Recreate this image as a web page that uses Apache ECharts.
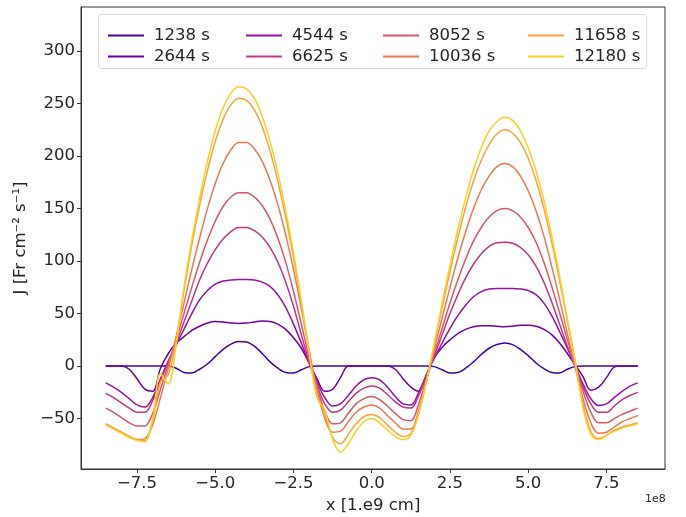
<!DOCTYPE html>
<html><head><meta charset="utf-8">
<script src="https://cdn.jsdelivr.net/npm/echarts@6/dist/echarts.min.js"></script>
<style>html,body{margin:0;padding:0;background:#fff}#c{width:686px;height:517px}</style>
</head><body><div id="c"></div>
<script>
// x positions in units of 1e8 cm
const xs = [-8.5,-8.25,-8.0,-7.75,-7.5,-7.25,-7.0,-6.75,-6.5,-6.25,-6.0,-5.75,-5.5,-5.25,-5.0,-4.75,-4.5,-4.25,-4.0,-3.75,-3.5,-3.25,-3.0,-2.75,-2.5,-2.25,-2.0,-1.75,-1.5,-1.25,-1.0,-0.75,-0.5,-0.25,0.0,0.25,0.5,0.75,1.0,1.25,1.5,1.75,2.0,2.25,2.5,2.75,3.0,3.25,3.5,3.75,4.0,4.25,4.5,4.75,5.0,5.25,5.5,5.75,6.0,6.25,6.5,6.75,7.0,7.25,7.5,7.75,8.0,8.25,8.5];
const seriesNames = ['1238 s','2644 s','4544 s','6625 s','8052 s','10036 s','11658 s','12180 s'];
const y1238 = [0,0,0,0,0,0,0,0,0,-2,-6,-6.5,-3,2,9,16,21,23.5,23,19,12,4,-2,-6,-6.5,-3.5,-0.5,0,0,0,0,0,0,0,0,0,0,0,0,0,0,0,-0.5,-3.5,-6.5,-6,-2,4,11,17,20.5,22,20.5,16,10,3,-2.5,-6,-6.5,-3,-0.5,0,0,0,0,0,0,0,0];
const y2644 = [0,0,0,-3,-12,-22,-24,-2,12,22,28,34,38,41,42.5,42,41,40.5,41,42,43,42.5,40,35,27,17,3,-12,-24,-22,-11,0,0,0,0,0,0,-3,-12,-20,-24,-8,8,18,25,31,35,37.5,38.5,38.5,38,37.5,38,39,39,38,35,30,22,12,1,-10,-23,-20,-11,-1,0,0,0];
const y4544 = [-16,-20,-25,-31,-37,-39,-30,-12,5,20,35,50,63,72,78,81,82,82.5,82.5,82,80,76,68,56,40,22,3,-15,-30,-38,-36,-28,-19,-13,-11,-13,-20,-29,-36,-37,-25,-8,8,22,36,48,58,66,71,73.5,74,74,74,73.5,72,68,60,48,33,17,0,-17,-31,-37.5,-36,-30,-24,-19,-16];
const y6625 = [-26,-30,-35,-40,-44,-44,-33,-14,4,22,42,62,82,98,111,121,128,132,132,129,123,113,99,80,57,30,4,-18,-36,-44,-42,-34,-26,-21,-19,-21,-27,-34,-39,-40,-28,-9,10,30,50,68,84,97,107,114,117.5,118,117,113,106,95,80,61,40,19,-1,-20,-36,-44,-44,-38,-32,-28,-25];
const y8052 = [-40,-44,-49,-54,-57,-57,-45,-22,2,25,50,75,99,120,138,152,161,165,165,161,153,140,122,99,71,40,8,-20,-43,-55,-54,-45,-36,-31,-29,-32,-38,-45,-51,-52,-36,-12,12,36,60,82,102,119,132,142,148,150,148,142,132,118,99,76,51,25,0,-24,-44,-54,-54,-50,-46,-43,-40];
const y10036 = [-55,-59,-63,-67,-70,-69,-56,-30,-2,28,60,92,122,150,174,193,206,213,213,207,195,177,154,125,92,55,15,-22,-50,-63,-62,-53,-44,-39,-37,-40,-47,-54,-60,-60,-42,-14,16,46,75,103,128,150,168,181,190,193,190,181,167,148,124,95,64,31,-1,-31,-54,-64,-63,-58,-53,-50,-47];
const y11658 = [-55,-59,-63,-67,-70,-71,-52,-15,-8,25,72,115,153,186,214,235,249,255,253,244,228,205,176,142,103,60,14,-28,-45,-68,-74,-65,-55,-48,-46,-49,-56,-63,-67,-64,-45,-14,20,56,90,122,151,176,196,211,221,225,222,213,198,177,150,118,82,43,4,-36,-62,-69,-66,-61,-58,-56,-54];
const y12180 = [-56,-60,-64,-68,-71,-72,-50,-7,-17,20,75,120,160,195,224,246,260,266,264,255,238,214,184,148,108,62,12,-30,-42,-70,-82,-74,-62,-53,-50,-54,-61,-67,-70,-66,-45,-14,22,60,96,130,160,187,208,224,233,237,234,224,208,186,158,124,86,45,5,-40,-65,-70,-66,-62,-59,-57,-55];
const xTicks = [-7.5,-5.0,-2.5,0.0,2.5,5.0,7.5];
const yTicks = [-50,0,50,100,150,200,250,300];

const allY = [y1238,y2644,y4544,y6625,y8052,y10036,y11658,y12180];
const colors = ['#41049d','#6f00a8','#9814a0','#be3885','#d8576b','#ed7953','#fba238','#fcce25'];
const fmt = v => { const s = Number(v).toFixed(1); return s.replace('-', '\u2212'); };
const fmtY = v => String(v).replace('-', '\u2212');
const FONT = 'DejaVu Sans';
const FS = 16.5;

const series = allY.map((ys, i) => ({
  name: seriesNames[i], type: 'line', showSymbol: false, symbol: 'none',
  smooth: 0.35, data: xs.map((x, k) => [x, ys[k]]),
  lineStyle: { width: 1.5, color: colors[i] }, itemStyle: { color: colors[i] },
  animation: false, z: 2
}));

const legendCols = [[0,1],[2,3],[4,5],[6,7]];
const legendLeft = [103, 241, 378, 523];
const legends = legendCols.map((idx, c) => ({
  orient: 'vertical', left: legendLeft[c], top: 21, z: 20,
  data: idx.map(i => seriesNames[i]), icon: 'rect', itemWidth: 36, itemHeight: 2,
  itemGap: 2, textStyle: { fontFamily: FONT, fontSize: FS, color: '#262626', lineHeight: 19, padding: [0,0,0,5] },
  selectedMode: false
}));

const chart = echarts.init(document.getElementById('c'), null, { renderer: 'canvas' });
chart.setOption({
  animation: false, backgroundColor: '#fff', color: colors,
  grid: { left: 81, right: 21, top: 7, bottom: 48, show: true, borderColor: '#333', borderWidth: 1,
          containLabel: false, outerBoundsMode: 'none' },
  legend: legends,
  xAxis: {
    type: 'value', min: -9.29, max: 9.37,
    name: 'x [1.e9 cm]', nameLocation: 'middle', nameGap: 24,
    nameTextStyle: { fontFamily: FONT, fontSize: FS, color: '#262626' },
    axisLine: { show: true, onZero: false, lineStyle: { color: '#333' } },
    axisTick: { show: true, inside: false, length: 4, customValues: xTicks, lineStyle: { color: '#333' } },
    axisLabel: { customValues: xTicks, formatter: fmt, fontFamily: FONT, fontSize: FS, color: '#262626', margin: 6 },
    splitLine: { show: false }
  },
  yAxis: {
    type: 'value', min: -98, max: 342,
    name: 'J [Fr cm\u207B\u00B2 s\u207B\u00B9]', nameLocation: 'middle', nameGap: 51,
    nameTextStyle: { fontFamily: FONT, fontSize: FS, color: '#262626' },
    axisLine: { show: true, onZero: false, lineStyle: { color: '#333' } },
    axisTick: { show: true, inside: false, length: 4, customValues: yTicks, lineStyle: { color: '#333' } },
    axisLabel: { customValues: yTicks, formatter: fmtY, fontFamily: FONT, fontSize: FS, color: '#262626', margin: 6 },
    splitLine: { show: false }
  },
  graphic: [
    { type: 'rect', left: 98, top: 14, shape: { width: 548, height: 54, r: 3 },
      style: { fill: '#fff', stroke: '#d9d9d9', lineWidth: 1 }, z: 10, silent: true },
    { type: 'text', left: 645, top: 494, style: { text: '1e8', fontFamily: FONT, fontSize: 11, fill: '#262626' } }
  ],
  series: series
});
</script></body></html>
